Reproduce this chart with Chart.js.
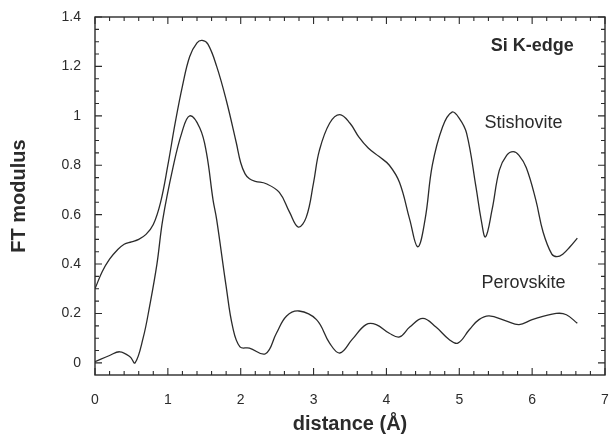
<!DOCTYPE html>
<html>
<head>
<meta charset="utf-8">
<script src="https://cdn.jsdelivr.net/npm/chart.js@4"></script>
<style>
  html, body { margin: 0; padding: 0; background: #fff; }
  #wrap { width: 610px; height: 436px; position: relative; }
</style>
</head>
<body>
<div id="wrap"><canvas id="chart"></canvas></div>
<script>
// ---- data ----
const stishoviteX = [0, 0.1, 0.2, 0.3, 0.4, 0.5, 0.6, 0.7, 0.8, 0.9, 1.0, 1.1, 1.2, 1.3, 1.4, 1.47, 1.55, 1.67, 1.8, 1.94, 2.0, 2.06, 2.12, 2.2, 2.35, 2.53, 2.67, 2.79, 2.9, 3.0, 3.08, 3.22, 3.36, 3.5, 3.62, 3.75, 3.9, 4.04, 4.18, 4.32, 4.43, 4.53, 4.63, 4.77, 4.9, 5.0, 5.1, 5.23, 5.3, 5.36, 5.45, 5.55, 5.65, 5.74, 5.82, 5.92, 6.05, 6.15, 6.27, 6.34, 6.42, 6.52, 6.62];
const stishoviteY = [0.30, 0.37, 0.42, 0.455, 0.48, 0.49, 0.50, 0.52, 0.56, 0.65, 0.80, 0.97, 1.12, 1.24, 1.295, 1.305, 1.29, 1.20, 1.065, 0.89, 0.81, 0.765, 0.745, 0.735, 0.725, 0.69, 0.61, 0.55, 0.59, 0.73, 0.86, 0.97, 1.005, 0.97, 0.915, 0.87, 0.835, 0.80, 0.73, 0.58, 0.47, 0.58, 0.80, 0.955, 1.015, 0.99, 0.93, 0.71, 0.58, 0.51, 0.62, 0.78, 0.84, 0.855, 0.84, 0.79, 0.66, 0.53, 0.44, 0.43, 0.44, 0.47, 0.505];

const perovskiteX = [0, 0.2, 0.34, 0.48, 0.55, 0.66, 0.75, 0.85, 0.93, 1.07, 1.19, 1.3, 1.44, 1.53, 1.62, 1.67, 1.8, 1.89, 1.99, 2.12, 2.34, 2.49, 2.63, 2.8, 3.04, 3.22, 3.36, 3.53, 3.72, 3.86, 4.04, 4.18, 4.32, 4.5, 4.68, 4.86, 4.98, 5.14, 5.27, 5.41, 5.64, 5.82, 6.0, 6.33, 6.47, 6.62];
const perovskiteY = [0.005, 0.03, 0.045, 0.025, 0.0, 0.10, 0.23, 0.40, 0.58, 0.79, 0.93, 1.0, 0.95, 0.85, 0.66, 0.58, 0.31, 0.145, 0.065, 0.06, 0.037, 0.12, 0.19, 0.21, 0.175, 0.08, 0.04, 0.095, 0.155, 0.155, 0.12, 0.105, 0.145, 0.18, 0.145, 0.095, 0.08, 0.135, 0.175, 0.19, 0.17, 0.155, 0.175, 0.20, 0.195, 0.16];

const yTicks = [0, 0.2, 0.4, 0.6, 0.8, 1.0, 1.2, 1.4];

// text labels inside the plot (data coords)
const notes = [
  { text: "Si K-edge", x: 6.0, y: 1.283, bold: true, size: 18 },
  { text: "Stishovite", x: 5.88, y: 0.97, bold: false, size: 18 },
  { text: "Perovskite", x: 5.88, y: 0.324, bold: false, size: 18 },
];

const INK = "#2b2b2b";
const FONT = "'Liberation Sans', Arial, Helvetica, sans-serif";

const toPoints = (xs, ys) => xs.map((x, i) => ({ x, y: ys[i] }));

// frame + inward ticks on all four sides, plus the annotations
const framePlugin = {
  id: "frame",
  afterDraw(chart) {
    const { ctx, chartArea: a, scales } = chart;
    const sx = scales.x, sy = scales.y;
    ctx.save();
    ctx.strokeStyle = INK;
    ctx.lineWidth = 1.4;
    ctx.strokeRect(a.left, a.top, a.right - a.left, a.bottom - a.top);

    ctx.lineWidth = 1.1;
    ctx.beginPath();
    for (let i = 0; i <= 35; i++) {
      const px = sx.getPixelForValue(i * 0.2);
      const len = i % 5 === 0 ? 7 : 4;
      ctx.moveTo(px, a.bottom); ctx.lineTo(px, a.bottom - len);
      ctx.moveTo(px, a.top); ctx.lineTo(px, a.top + len);
    }
    for (let i = 0; i <= 28; i++) {
      const py = sy.getPixelForValue(i * 0.05);
      const len = i % 4 === 0 ? 7 : 4;
      ctx.moveTo(a.left, py); ctx.lineTo(a.left + len, py);
      ctx.moveTo(a.right, py); ctx.lineTo(a.right - len, py);
    }
    ctx.stroke();

    ctx.fillStyle = INK;
    ctx.textAlign = "center";
    ctx.textBaseline = "middle";
    notes.forEach(n => {
      ctx.font = (n.bold ? "bold " : "") + n.size + "px " + FONT;
      ctx.fillText(n.text, sx.getPixelForValue(n.x), sy.getPixelForValue(n.y));
    });
    ctx.restore();
  }
};

const lineStyle = {
  borderColor: INK,
  borderWidth: 1.3,
  pointRadius: 0,
  fill: false,
  tension: 0.4,
};

new Chart(document.getElementById("chart"), {
  type: "line",
  data: {
    datasets: [
      { label: "Stishovite", data: toPoints(stishoviteX, stishoviteY), ...lineStyle },
      { label: "Perovskite", data: toPoints(perovskiteX, perovskiteY), ...lineStyle },
    ],
  },
  options: {
    responsive: true,
    maintainAspectRatio: false,
    animation: false,
    layout: { autoPadding: false, padding: { left: 0, right: 5, top: 17, bottom: 0 } },
    plugins: { legend: { display: false }, tooltip: { enabled: false } },
    scales: {
      x: {
        type: "linear",
        min: 0,
        max: 7,
        grid: { display: false, drawTicks: false },
        border: { display: false },
        ticks: {
          stepSize: 1,
          padding: 17,
          color: INK,
          font: { family: FONT, size: 14 },
        },
        title: {
          display: true,
          text: "distance (Å)",
          color: INK,
          padding: { top: 0, bottom: 0 },
          font: { family: FONT, size: 20, weight: "bold" },
        },
        afterFit: s => {
          s.height = 61;
          s.paddingLeft = 0;
          s.paddingRight = 0;
        },
      },
      y: {
        type: "linear",
        min: -0.049,
        max: 1.4,
        grid: { display: false, drawTicks: false },
        border: { display: false },
        afterBuildTicks: s => { s.ticks = yTicks.map(v => ({ value: v })); },
        ticks: {
          padding: 14,
          color: INK,
          font: { family: FONT, size: 14 },
          callback: v => String(+v.toFixed(1)),
        },
        title: {
          display: true,
          text: "FT modulus",
          color: INK,
          padding: { top: 7, bottom: 0 },
          font: { family: FONT, size: 20, weight: "bold" },
        },
        afterFit: s => {
          s.width = 95;
          s.paddingTop = 0;
          s.paddingBottom = 0;
        },
      },
    },
  },
  plugins: [framePlugin],
});
</script>
</body>
</html>
